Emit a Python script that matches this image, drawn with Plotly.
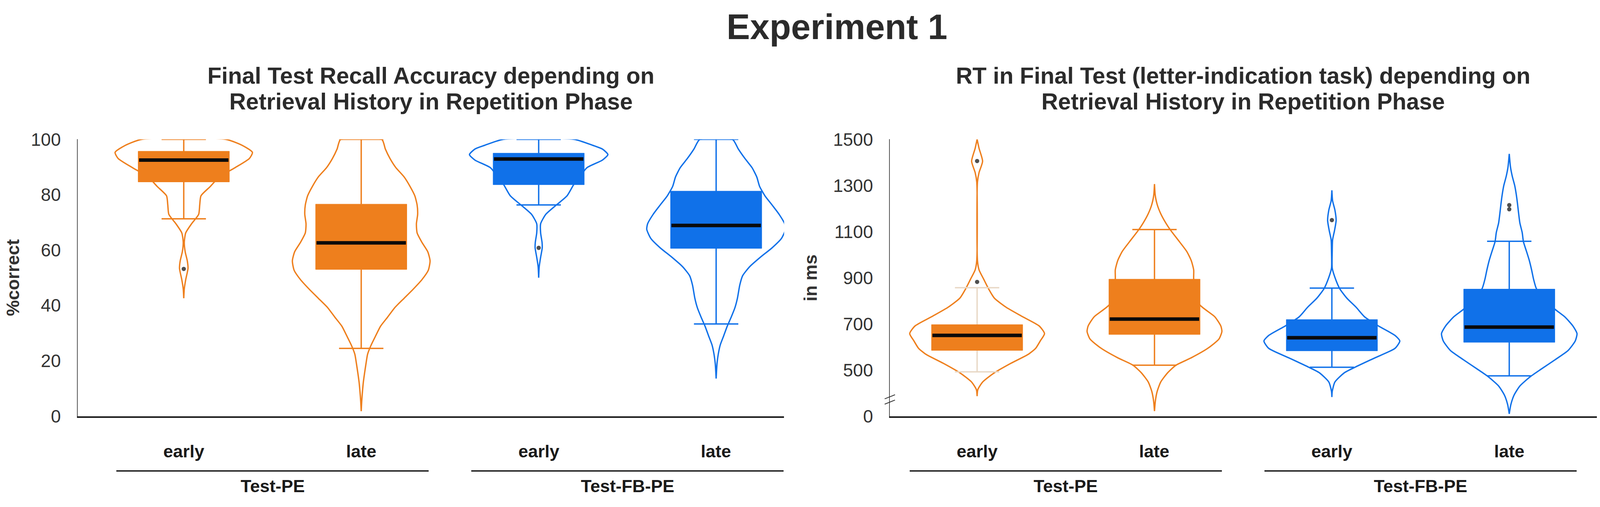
import plotly.graph_objects as go

# colours
ORANGE = "#EE7F1D"
BLUE = "#1071E9"
PALE = "#E8D8C6"

# category positions / labels
cond_labels = ["early", "late", "early", "late"]
group_labels = ["Test-PE", "Test-FB-PE"]

# ---- Final test recall accuracy (%correct) ----
# violin outlines: y value and half width (category units)
acc_pe_early_y = [100, 97.8, 95.3, 93.1, 89.8, 86.4, 83.0, 79.6, 76.3, 72.9, 69.5, 66.2, 62.8, 59.4, 56.1, 53.4, 49.3, 46.0, 42.6]
acc_pe_early_w = [0.237, 0.33, 0.387, 0.37, 0.29, 0.20, 0.15, 0.097, 0.09, 0.084, 0.044, 0.011, 0.003, 0.008, 0.02, 0.024, 0.011, 0.003, 0]
acc_pe_late_y = [100, 96.5, 93.1, 89.8, 86.4, 83.0, 79.6, 76.3, 72.9, 69.5, 66.2, 62.8, 59.4, 56.1, 52.7, 49.3, 46.0, 42.6,
                 39.2, 35.8, 32.5, 29.1, 25.7, 22.4, 19.0, 15.6, 12.3, 8.9, 5.5, 1.8]
acc_pe_late_w = [0.116, 0.136, 0.162, 0.195, 0.242, 0.275, 0.302, 0.315, 0.318, 0.311, 0.315, 0.342, 0.375, 0.388, 0.378, 0.342,
                 0.295, 0.242, 0.189, 0.149, 0.109, 0.082, 0.056, 0.036, 0.027, 0.019, 0.012, 0.007, 0.003, 0]
acc_fb_early_y = [100, 97.8, 96.5, 94.5, 92.5, 89.8, 86.4, 83.6, 79.6, 76.3, 72.9, 69.5, 66.2, 62.8, 60.8, 57.4, 54.0, 50.0]
acc_fb_early_w = [0.2, 0.306, 0.359, 0.39, 0.359, 0.273, 0.23, 0.197, 0.16, 0.1, 0.04, 0.011, 0.011, 0.019, 0.02, 0.011, 0.003, 0]
acc_fb_late_y = [100, 96.5, 93.1, 89.8, 86.4, 83.0, 79.6, 76.3, 72.9, 69.5, 67.5, 64.2, 60.8, 57.4, 54.0, 50.7, 47.3, 42.6,
                 39.2, 35.8, 32.5, 29.1, 25.7, 22.4, 19.0, 13.6]
acc_fb_late_w = [0.092, 0.125, 0.162, 0.202, 0.229, 0.245, 0.275, 0.315, 0.355, 0.386, 0.391, 0.368, 0.315, 0.249, 0.189,
                 0.149, 0.133, 0.12, 0.106, 0.085, 0.0625, 0.043, 0.023, 0.012, 0.005, 0]

# box stats: q1, median, q3, lower whisker, upper whisker
acc_q1 = [84.6, 53.0, 83.6, 60.6]
acc_med = [92.5, 62.6, 92.9, 68.9]
acc_q3 = [95.7, 76.6, 95.0, 81.3]
acc_lo = [71.3, 24.5, 76.3, 33.3]
acc_hi = [100, 100, 100, 100]
acc_outliers = [[53.2], [], [60.8], []]

# ---- RT in final test (ms) ----
rt_pe_early_y = [1500, 1461, 1405, 1356, 1315, 975, 934, 894, 853, 812, 772, 731, 691, 658, 626, 594, 569, 529, 488, 448, 415, 387]
rt_pe_early_w = [0, 0.011, 0.031, 0.011, 0.002, 0.002, 0.011, 0.037, 0.064, 0.097, 0.164, 0.257, 0.35, 0.38, 0.356, 0.33,
                 0.29, 0.19, 0.097, 0.031, 0.004, 0]
rt_pe_late_y = [1306, 1259, 1218, 1178, 1137, 1109, 1056, 1015, 975, 934, 894, 853, 784, 731, 691, 667, 634, 594, 553, 521,
                488, 448, 407, 366, 322]
rt_pe_late_w = [0, 0.004, 0.015, 0.035, 0.064, 0.088, 0.141, 0.181, 0.207, 0.221, 0.221, 0.233, 0.254, 0.34, 0.374, 0.38,
                0.363, 0.3, 0.207, 0.121, 0.074, 0.035, 0.015, 0.005, 0]
rt_fb_early_y = [1279, 1234, 1194, 1149, 1105, 1064, 1015, 942, 902, 853, 812, 772, 731, 691, 650, 626, 594, 553, 512, 488,
                 448, 407, 383]
rt_fb_early_w = [0, 0.004, 0.017, 0.024, 0.015, 0.004, 0.002, 0.002, 0.017, 0.044, 0.084, 0.137, 0.184, 0.263, 0.356, 0.383,
                 0.356, 0.243, 0.13, 0.07, 0.017, 0.002, 0]
rt_fb_late_y = [1437, 1380, 1340, 1299, 1259, 1218, 1178, 1137, 1096, 1056, 1015, 975, 934, 894, 853, 809, 764, 731, 691,
                658, 626, 585, 545, 504, 472, 431, 391, 350, 310]
rt_fb_late_w = [0, 0.007, 0.017, 0.031, 0.04, 0.047, 0.053, 0.06, 0.073, 0.08, 0.097, 0.113, 0.126, 0.137, 0.153, 0.2,
                0.257, 0.3125, 0.359, 0.382, 0.372, 0.332, 0.259, 0.18, 0.12, 0.06, 0.027, 0.009, 0]

rt_q1 = [585, 654, 583, 620]
rt_med = [650, 721, 640, 686]
rt_q3 = [697, 894, 719, 851]
rt_lo = [492, 521, 512, 475]
rt_hi = [857, 1109, 855, 1058]
rt_outliers = [[1406, 882], [], [1150], [1215, 1197]]

rt_tickvals = [300, 500, 700, 900, 1100, 1300, 1500]
rt_ticktext = ["0", "500", "700", "900", "1100", "1300", "1500"]

FONT = "Liberation Sans, Arial, sans-serif"
BOX_HW = 0.257
CAP_HW = 0.125

# reference picture is 4328 x 1297; the page is laid out relative to the window
REF_W, REF_H = 4328, 1297
VIEW_W = 4096      # browser window width seen by the page
BODY_M = 8         # default body margin
FIG_H = REF_H - BODY_M


def px(x):
    # reference x pixel -> paper fraction
    return min(1.0, max(0.0, (x * VIEW_W / REF_W - BODY_M) / (VIEW_W - 2 * BODY_M)))


def py(y):
    # reference y pixel -> paper fraction
    return min(1.0, max(0.0, 1 - (y - BODY_M) / FIG_H))


FS = 0.975  # font scale compromise for the narrower window

fig = go.Figure()


def add_group(xa, ya, pos, vy, vw, color, q1, med, q3, lo, hi, outl, whisker_color=None):
    wc = whisker_color or color
    # violin outline
    xs = [pos + w for w in vw] + [pos - w for w in reversed(vw)] + [pos + vw[0]]
    ys = list(vy) + list(reversed(vy)) + [vy[0]]
    fig.add_trace(go.Scatter(x=xs, y=ys, mode="lines", xaxis=xa, yaxis=ya,
                             line=dict(color=color, width=3.5, shape="spline", smoothing=0.6),
                             hoverinfo="skip", showlegend=False))
    # whiskers and caps
    fig.add_trace(go.Scatter(
        x=[pos, pos, None, pos, pos, None, pos - CAP_HW, pos + CAP_HW, None, pos - CAP_HW, pos + CAP_HW],
        y=[q3, hi, None, q1, lo, None, hi, hi, None, lo, lo],
        mode="lines", xaxis=xa, yaxis=ya, line=dict(color=wc, width=3.5),
        hoverinfo="skip", showlegend=False))
    # box
    fig.add_trace(go.Scatter(
        x=[pos - BOX_HW, pos + BOX_HW, pos + BOX_HW, pos - BOX_HW, pos - BOX_HW],
        y=[q1, q1, q3, q3, q1], mode="lines", fill="toself", fillcolor=color,
        line=dict(color=color, width=1), xaxis=xa, yaxis=ya,
        hoverinfo="skip", showlegend=False))
    # median
    fig.add_trace(go.Scatter(x=[pos - BOX_HW + 0.005, pos + BOX_HW - 0.005], y=[med, med], mode="lines",
                             line=dict(color="#0a0a0a", width=9), xaxis=xa, yaxis=ya,
                             hoverinfo="skip", showlegend=False))
    if outl:
        fig.add_trace(go.Scatter(x=[pos] * len(outl), y=outl, mode="markers", xaxis=xa, yaxis=ya,
                                 marker=dict(color="#4f4f4f", size=11),
                                 hoverinfo="skip", showlegend=False))


acc_v = [(acc_pe_early_y, acc_pe_early_w), (acc_pe_late_y, acc_pe_late_w),
         (acc_fb_early_y, acc_fb_early_w), (acc_fb_late_y, acc_fb_late_w)]
rt_v = [(rt_pe_early_y, rt_pe_early_w), (rt_pe_late_y, rt_pe_late_w),
        (rt_fb_early_y, rt_fb_early_w), (rt_fb_late_y, rt_fb_late_w)]
colors = [ORANGE, ORANGE, BLUE, BLUE]

for i in range(4):
    add_group("x", "y", i, acc_v[i][0], acc_v[i][1], colors[i],
              acc_q1[i], acc_med[i], acc_q3[i], acc_lo[i], acc_hi[i], acc_outliers[i])
    add_group("x2", "y2", i, rt_v[i][0], rt_v[i][1], colors[i],
              rt_q1[i], rt_med[i], rt_q3[i], rt_lo[i], rt_hi[i], rt_outliers[i],
              whisker_color=PALE if i == 0 else None)

ydom = [py(1082), py(344)]

xcommon = dict(showgrid=False, zeroline=False, showticklabels=False, ticks="",
               showline=True, linecolor="#1a1a1a", linewidth=3.5)
ycommon = dict(showgrid=False, zeroline=False, showline=True, linecolor="#555555", linewidth=1.5,
               ticks="", ticklabelstandoff=32, tickfont=dict(family=FONT, size=round(47 * FS), color="#333333"))

# width follows the browser window, height fixed
fig.update_layout(
    autosize=True, height=FIG_H, margin=dict(l=0, r=0, t=0, b=0),
    paper_bgcolor="white", plot_bgcolor="white",
    font=dict(family=FONT, color="#333333"),
    xaxis=dict(domain=[px(210), px(2121)], range=[-0.598, 3.383], **xcommon),
    xaxis2=dict(domain=[px(2407), px(4320)], range=[-0.492, 3.494], anchor="y2", **xcommon),
    yaxis=dict(domain=ydom, range=[0, 100], tickvals=[0, 20, 40, 60, 80, 100], anchor="x", **ycommon),
    yaxis2=dict(domain=ydom, range=[300, 1500], tickvals=rt_tickvals, ticktext=rt_ticktext,
                anchor="x2", **ycommon),
)


def note(text, x, y, size, color="#2b2b2b", xref="paper", yref="paper", angle=0):
    return dict(text=text, x=x, y=y, xref=xref, yref=yref, xanchor="center", yanchor="middle",
                textangle=angle, showarrow=False, font=dict(size=round(size * FS), color=color, family=FONT))


ann = [note("<b>Experiment 1</b>", px(2264), py(44), 92)]
sub_titles = [
    (1166, "Final Test Recall Accuracy depending on", "Retrieval History in Repetition Phase"),
    (3363, "RT in Final Test (letter-indication task) depending on", "Retrieval History in Repetition Phase"),
]
for cx, l1, l2 in sub_titles:
    ann.append(note("<b>" + l1 + "</b>", px(cx), py(175), 61))
    ann.append(note("<b>" + l2 + "</b>", px(cx), py(243), 61))
ann.append(note("<b>%correct</b>", px(34), py(713), 47, color="#333333", angle=-90))
ann.append(note("<b>in ms</b>", px(2192), py(713), 47, color="#333333", angle=-90))

shapes = []
for xr in ["x", "x2"]:
    for i, lab in enumerate(cond_labels):
        ann.append(note("<b>" + lab + "</b>", i, py(1176), 46, color="#1a1a1a", xref=xr))
    for g, lab in enumerate(group_labels):
        c = 0.5 + 2 * g
        ann.append(note("<b>" + lab + "</b>", c, py(1268), 46, color="#1a1a1a", xref=xr))
        shapes.append(dict(type="line", xref=xr, yref="paper", x0=c - 0.88, x1=c + 0.88,
                           y0=py(1228), y1=py(1228), line=dict(color="#1a1a1a", width=3.5)))

# axis break marks on the RT axis
for yb in [(352, 370), (375, 393)]:
    shapes.append(dict(type="line", xref="paper", yref="y2", x0=px(2393), x1=px(2421), y0=yb[0], y1=yb[1],
                       line=dict(color="#333333", width=2)))

fig.update_layout(annotations=ann, shapes=shapes)

fig.write_html("out.html")
